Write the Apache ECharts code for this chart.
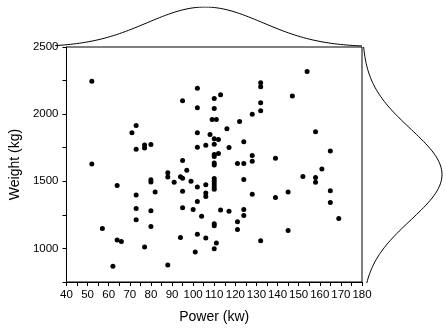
<!DOCTYPE html>
<html>
<head>
<meta charset="utf-8">
<script src="https://cdn.jsdelivr.net/npm/echarts@6/dist/echarts.min.js"></script>
<style>
html,body{margin:0;padding:0;background:#fff;}
#chart{width:446px;height:329px;}
</style>
</head>
<body>
<div id="chart"></div>
<script>
// Power (kw)
var power = [52,52,57,62,64,64,66,71,73,73,73,73,73,77,77,77,80,80,80,80,80,82,88,88,88,91,94,94,95,95,95,95,95,97,99,100,101,102,102,102,102,102,102,102,104,106,106,106,106,106,108,109,111,110,110,110,110,110,110,110,110,110,110,110,110,110,110,110,110,111,112,112,113,113,116,117,117,121,121,121,122,124,124,124,124,124,128,128,128,128,132,132,132,132,132,139,139,145,145,147,152,154,158,158,158,161,165,165,165,169];
// Weight (kg)
var weight = [2245,1628,1148,867,1469,1062,1052,1862,1915,1739,1397,1297,1213,1771,1747,1010,1774,1512,1494,1280,1163,1420,1564,1531,876,1492,1534,1082,2100,1655,1522,1426,1302,1583,1500,1289,973,2193,2048,1861,1754,1457,1350,1106,1240,1768,1474,1413,1386,1077,1848,1960,1960,2116,2042,1816,1776,1700,1685,1636,1621,1520,1500,1480,1460,1440,1183,1168,998,1040,1812,1706,2145,1286,1891,1751,1276,1633,1198,1141,1946,1795,1633,1514,1290,1245,2000,1692,1650,1404,2234,2204,2085,2026,1057,1672,1380,1420,1134,2136,1535,2318,1869,1529,1492,1591,1726,1429,1342,1222];

var xMin = 40, xMax = 180, xStep = 10;
var yMin = 750, yMax = 2500, yStep = 250;

function stats(a){
  var m = a.reduce(function(s,v){return s+v;},0)/a.length;
  var v = a.reduce(function(s,x){return s+(x-m)*(x-m);},0)/(a.length-1);
  return {mean:m, sd:Math.sqrt(v)};
}
function pdf(x, s){
  return Math.exp(-0.5*Math.pow((x-s.mean)/s.sd,2))/(s.sd*Math.sqrt(2*Math.PI));
}
var sx = stats(power), sy = stats(weight);
var topCurve = [], rightCurve = [];
var N = 200;
for (var i=0;i<=N;i++){
  var xv = xMin + (xMax-xMin)*i/N;
  topCurve.push([xv, pdf(xv, sx)]);
  var yv = yMin + (yMax-yMin)*i/N;
  rightCurve.push([pdf(yv, sy), yv]);
}
var scatter = power.map(function(p,i){return [p, weight[i]];});

var FONT = 'Liberation Sans';
var chart = echarts.init(document.getElementById('chart'));
chart.setOption({
  animation:false,
  backgroundColor:'#fff',
  grid:[
    {left:55, right:84, top:47, bottom:46, show:true, borderColor:'#000', borderWidth:1},
    {left:55, right:84, top:7, bottom:282},
    {left:362, right:4, top:47, bottom:46}
  ],
  xAxis:[
    {gridIndex:0, type:'value', min:xMin, max:xMax, interval:xStep,
     name:'Power (kw)', nameLocation:'middle', nameGap:28,
     nameTextStyle:{fontFamily:FONT, fontSize:14, color:'#000'},
     axisLine:{lineStyle:{color:'#000', width:1}},
     axisTick:{show:true, length:4, lineStyle:{color:'#000'}},
     minorTick:{show:true, splitNumber:2, length:4, lineStyle:{color:'#000'}},
     splitLine:{show:false},
     axisLabel:{fontFamily:FONT, fontSize:11.5, color:'#000', margin:7}},
    {gridIndex:1, type:'value', min:xMin, max:xMax, show:false},
    {gridIndex:2, type:'value', min:0, max:pdf(sy.mean, sy), show:false}
  ],
  yAxis:[
    {gridIndex:0, type:'value', min:yMin, max:yMax, interval:yStep,
     name:'Weight (kg)', nameLocation:'middle', nameGap:40,
     nameTextStyle:{fontFamily:FONT, fontSize:14, color:'#000'},
     axisLine:{lineStyle:{color:'#000', width:1}},
     axisTick:{show:true, length:4, lineStyle:{color:'#000'}},
     splitLine:{show:false},
     axisLabel:{fontFamily:FONT, fontSize:11.5, color:'#000', margin:8,
       formatter:function(v){return v%500===0 ? String(v) : '';}}},
    {gridIndex:1, type:'value', min:0, max:pdf(sx.mean, sx), show:false},
    {gridIndex:2, type:'value', min:yMin, max:yMax, show:false}
  ],
  series:[
    {type:'scatter', xAxisIndex:0, yAxisIndex:0, data:scatter, symbol:'circle', symbolSize:5,
     itemStyle:{color:'#000', opacity:1}},
    {type:'line', xAxisIndex:1, yAxisIndex:1, data:topCurve, showSymbol:false, smooth:false,
     lineStyle:{color:'#000', width:1}},
    {type:'line', xAxisIndex:2, yAxisIndex:2, data:rightCurve, showSymbol:false, smooth:false,
     lineStyle:{color:'#000', width:1}}
  ]
});
</script>
</body>
</html>
